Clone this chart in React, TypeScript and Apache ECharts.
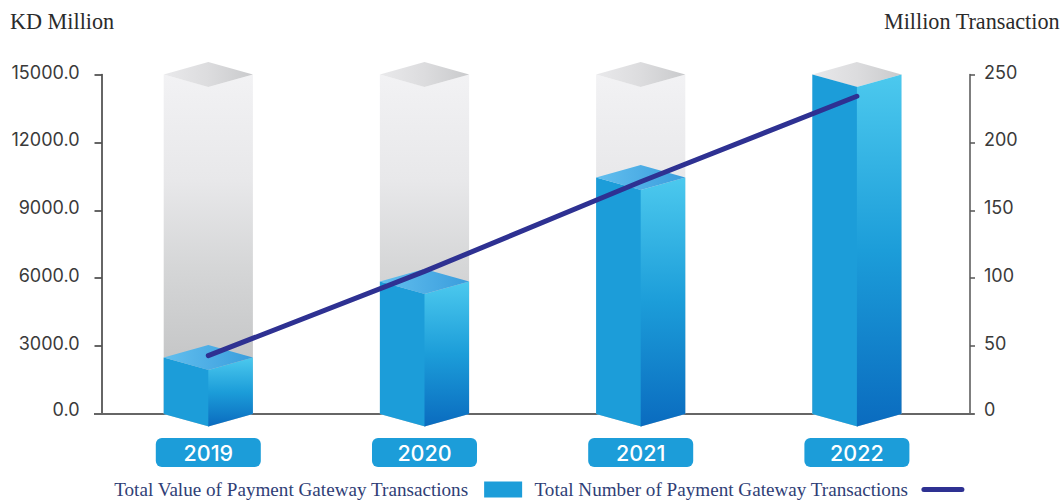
import React, { useEffect, useRef } from "react";
import * as echarts from "echarts";

const years = ["2019", "2020", "2021", "2022"];
const columnCeiling = [15000, 15000, 15000, 15000];
const paymentValues = [2500, 5850, 10450, 15000];
const transactionCounts = [43, 105, 171, 234];
const leftTicks = [0, 3000, 6000, 9000, 12000, 15000];
const rightTicks = [0, 50, 100, 150, 200, 250];

const VALUE_NAME = "Total Value of Payment Gateway Transactions";
const COUNT_NAME = "Total Number of Payment Gateway Transactions";
const SERIF = "'Liberation Serif', serif";
const SANS = "Inter, sans-serif";
const BLUE = "#1c9dd9";
const NAVY = "#2e3192";

type Stop = [number, string];
const gradient = (x2: number, y2: number, stops: Stop[]) =>
  new echarts.graphic.LinearGradient(0, 0, x2, y2, stops.map(([offset, color]) => ({ offset, color })));

// Draws one isometric column: two side faces with a pointed base and an optional diamond cap.
const prism = (leftFill: any, rightFill: any, capFill: any) => (params: any, api: any) => {
  const halfWidth = 44.6;
  const slope = 12.5;
  const seam = 0.7; // the left face runs under the right one so no hairline shows between them
  const [cx, top] = api.coord([api.value(0), api.value(1)]);
  const [, base] = api.coord([api.value(0), 0]);
  const children: any[] = [
    {
      type: "polygon",
      shape: {
        points: [
          [cx - halfWidth, top],
          [cx + seam, top + slope],
          [cx + seam, base + slope],
          [cx - halfWidth, base],
        ],
      },
      style: { fill: leftFill },
    },
    {
      type: "polygon",
      shape: { points: [[cx, top + slope], [cx + halfWidth, top], [cx + halfWidth, base], [cx, base + slope]] },
      style: { fill: rightFill },
    },
  ];
  if (api.value(2) === 1) {
    children.push({
      type: "polygon",
      shape: { points: [[cx - halfWidth, top], [cx, top - slope], [cx + halfWidth, top], [cx, top + slope]] },
      style: { fill: capFill },
    });
  }
  return { type: "group", children };
};

export default function App() {
  const ref = useRef<HTMLDivElement>(null);

  useEffect(() => {
    const chart = echarts.init(ref.current!, null, { renderer: "svg" });
    const shell = gradient(0, 1, [
      [0, "#f2f2f4"],
      [0.3, "#e8e8ea"],
      [0.55, "#d5d6d7"],
      [0.8, "#c6c7c8"],
      [1, "#c6c7c8"],
    ]);
    const blueRight = gradient(0, 1, [
      [0, "#4cc9ee"],
      [0.5, "#1c9dd9"],
      [1, "#0a6bbf"],
    ]);
    const tickStyle = { color: "#333333", width: 1.5 };
    // Tick texts sit a little above their ticks; the zero label sits higher still.
    const tickText = {
      fontFamily: SANS,
      fontSize: 18,
      color: "#3a3a3a",
      verticalAlign: "bottom" as const,
      lineHeight: 5,
      rich: { zero: { fontFamily: SANS, fontSize: 18, color: "#3a3a3a", lineHeight: 10 } },
    };
    const headText = { fontFamily: SERIF, fontSize: 22.2, fontWeight: "normal" as const, color: "#2b2b2b" };

    chart.setOption({
      animation: false,
      backgroundColor: "#ffffff",
      title: [
        { text: "KD Million", left: 10, top: 10, padding: 0, textStyle: headText },
        { text: "Million Transaction", right: 2, top: 10, padding: 0, textStyle: headText },
      ],
      grid: { left: 100.2, right: 97, top: 74.5, bottom: 86 },
      legend: {
        left: 108.5,
        top: 475,
        align: "right",
        itemWidth: 38,
        itemHeight: 16,
        itemGap: 12,
        selectedMode: false,
        textStyle: { fontFamily: SERIF, fontSize: 19.15, color: "#2f3e76", padding: [0, 11, 0, 0] },
        data: [
          { name: VALUE_NAME, icon: "rect" },
          { name: COUNT_NAME, itemStyle: { opacity: 0 }, lineStyle: { width: 5, cap: "round", color: NAVY } },
        ],
      },
      xAxis: {
        type: "category",
        data: years,
        axisLine: { show: false },
        axisTick: { show: false },
        axisLabel: {
          margin: 24,
          color: "#ffffff",
          fontFamily: SANS,
          fontSize: 21.5,
          fontWeight: 500,
          width: 105,
          height: 29,
          lineHeight: 29,
          align: "center",
          verticalAlign: "top",
          backgroundColor: BLUE,
          borderRadius: 6,
        },
      },
      yAxis: [
        {
          type: "value",
          min: 0,
          max: 15000,
          interval: 3000,
          offset: -1.3,
          splitLine: { show: false },
          axisLine: { show: true, lineStyle: tickStyle },
          axisTick: { show: true, length: 7, lineStyle: tickStyle },
          axisLabel: {
            ...tickText,
            margin: 22,
            formatter: (v: number) =>
              !leftTicks.includes(v) ? "" : v === 0 ? `{zero|${v.toFixed(1)}}` : v.toFixed(1),
          },
        },
        {
          type: "value",
          position: "right",
          min: 0,
          max: 250,
          interval: 50,
          offset: 5,
          splitLine: { show: false },
          axisLine: { show: true, lineStyle: { color: "#555555", width: 1.5 } },
          axisTick: { show: true, length: 5, lineStyle: { color: "#555555", width: 1.5 } },
          axisLabel: {
            ...tickText,
            margin: 14,
            formatter: (v: number) => (!rightTicks.includes(v) ? "" : v === 0 ? `{zero|${v}}` : String(v)),
          },
        },
      ],
      graphic: [
        { type: "line", z: 1, shape: { x1: 94, y1: 414, x2: 974, y2: 414 }, style: { stroke: "#666666", lineWidth: 2 } },
      ],
      series: [
        {
          type: "custom",
          name: "shell",
          z: 2,
          silent: true,
          clip: false,
          renderItem: prism(shell, shell, gradient(1, 0, [[0, "#e9e9eb"], [0.5, "#dcdcde"], [1, "#c9cacc"]])),
          encode: { x: 0, y: 1 },
          data: years.map((y, i) => [y, columnCeiling[i], 1]),
        },
        {
          type: "custom",
          name: VALUE_NAME,
          z: 3,
          silent: true,
          clip: false,
          itemStyle: { color: BLUE },
          renderItem: prism(BLUE, blueRight, gradient(1, 0, [[0, "#62bfee"], [1, "#3a9ddd"]])),
          encode: { x: 0, y: 1 },
          // The cap is left off where the value fills the column, so the grey lid stays visible.
          data: years.map((y, i) => [y, paymentValues[i], paymentValues[i] < columnCeiling[i] ? 1 : 0]),
        },
        {
          type: "line",
          name: COUNT_NAME,
          yAxisIndex: 1,
          z: 4,
          silent: true,
          showSymbol: false,
          symbol: "none",
          lineStyle: { color: NAVY, width: 5, cap: "round" },
          itemStyle: { color: NAVY },
          data: transactionCounts,
        },
      ],
    });
    return () => chart.dispose();
  }, []);

  return <div ref={ref} style={{ position: "absolute", left: 0, top: 0, width: 1062, height: 500 }} />;
}
